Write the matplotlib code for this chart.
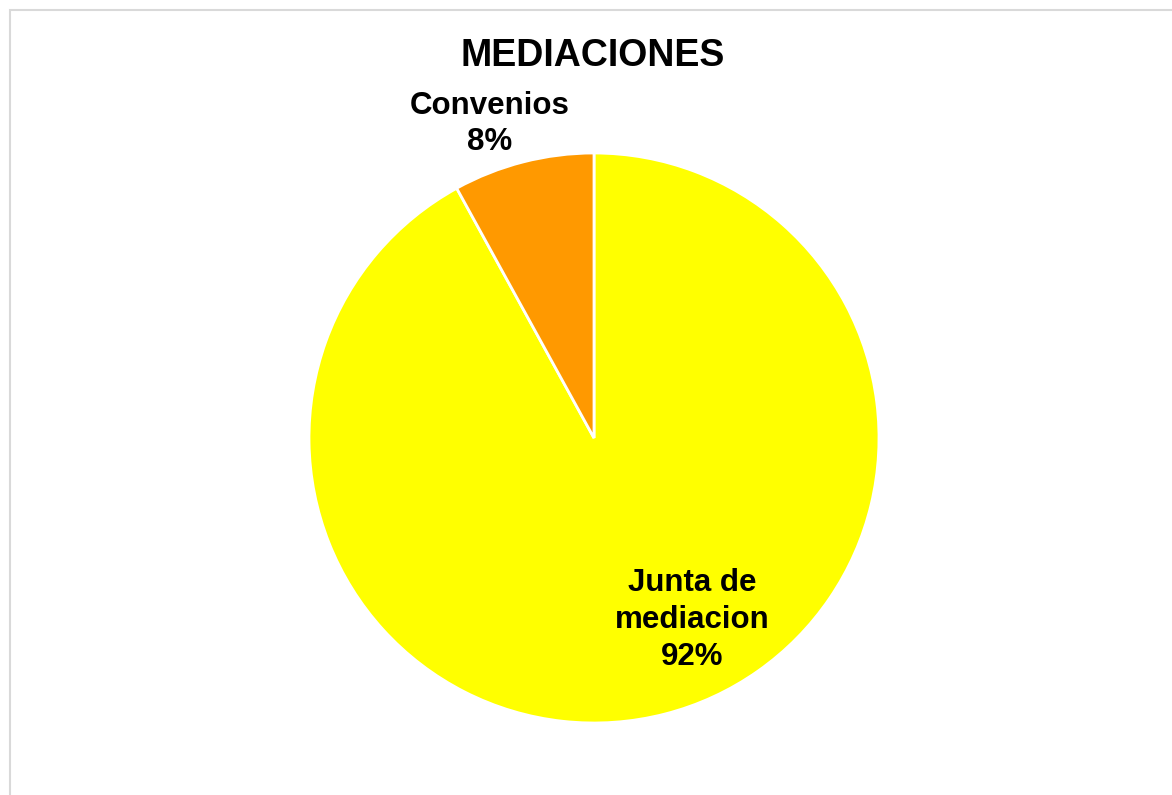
import matplotlib.pyplot as plt
from matplotlib.patches import Rectangle

# data
labels = ['Junta de\nmediacion', 'Convenios']
values = [92, 8]
colors = ['#ffff00', '#ff9900']
title = 'MEDIACIONES'

plt.rcParams['font.family'] = ['Liberation Sans', 'DejaVu Sans']

W, H = 1172, 795
fig = plt.figure(figsize=(W / 100, H / 100), dpi=100)

# chart-area border (light gray, runs off right/bottom)
fig.add_artist(Rectangle((10 / W, -0.1), 1.2, 1 - 10 / H + 0.1, transform=fig.transFigure,
                         fill=False, edgecolor='#d9d9d9', linewidth=1.5))

# pie axes: centre (594, 438) px, radius 285 px
cx, cy, r = 594, 438, 285
ax = fig.add_axes([(cx - r) / W, (H - cy - r) / H, 2 * r / W, 2 * r / H])
ax.pie(values, colors=colors, startangle=90, counterclock=False, radius=1,
       wedgeprops=dict(edgecolor='white', linewidth=2))
ax.set_xlim(-1, 1)
ax.set_ylim(-1, 1)
ax.set_aspect('equal')
ax.axis('off')

# data labels
pos = [((692 - cx) / r, (cy - 620) / r), ((490 - cx) / r, (cy - 124) / r)]
for lab, v, (x, y) in zip(labels, values, pos):
    ax.text(x, y, f'{lab}\n{v}%', ha='center', va='center', fontsize=22.5,
            fontweight='bold', linespacing=1.3, color='black')

fig.text(593 / W, 1 - 56 / H, title, ha='center', va='center', fontsize=27,
         fontweight='bold')

fig.savefig('out.png', dpi=100)
